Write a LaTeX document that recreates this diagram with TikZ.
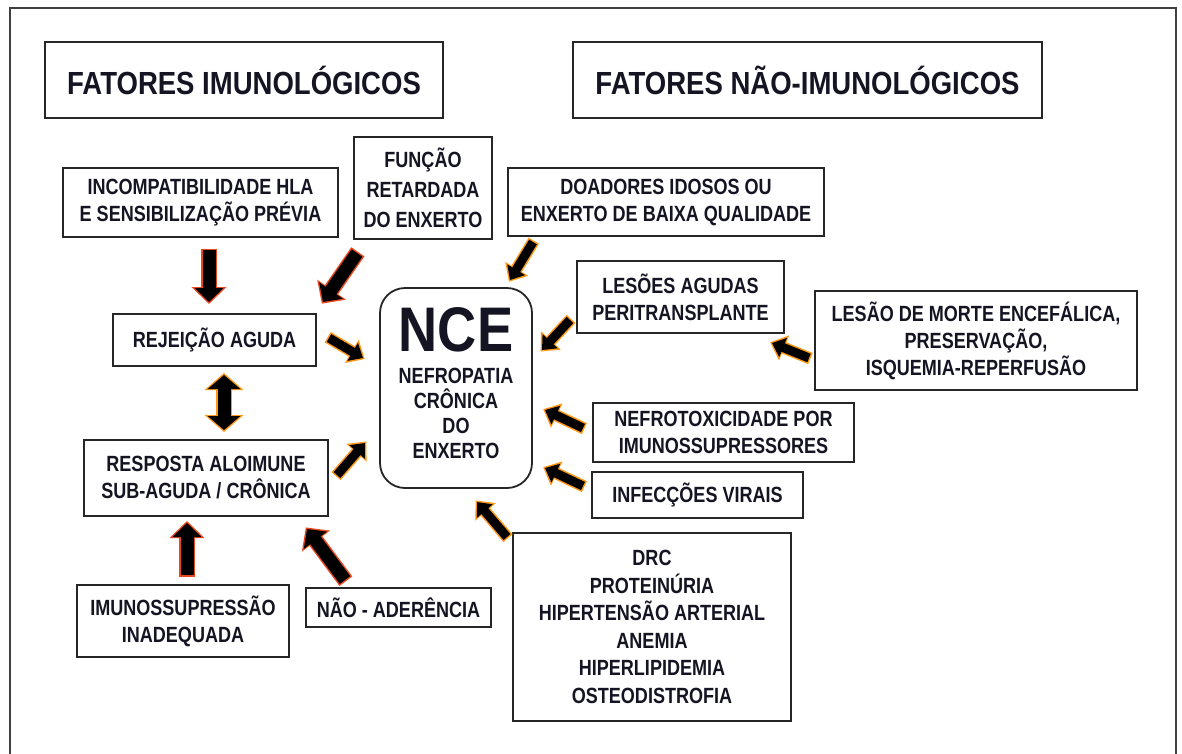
\documentclass[tikz,border=0pt]{standalone}
\usepackage{fontspec}
\setmainfont{Liberation Sans}
\newfontfamily\nb[FakeStretch=0.82]{Liberation Sans}
\newfontfamily\tb[FakeStretch=0.86]{Liberation Sans}
\usetikzlibrary{arrows.meta}
\definecolor{txt}{RGB}{20,20,35}
\definecolor{orng}{RGB}{255,150,20}
\definecolor{redo}{RGB}{235,70,30}
\begin{document}
\begin{tikzpicture}[x=1pt,y=-1pt,
  box/.style={draw=black!85, line width=1.8pt, fill=white, inner sep=0pt, align=center, text=txt,
    font=\nb\bfseries\fontsize{22}{27}\selectfont},
  titlebox/.style={box, font=\tb\bfseries\fontsize{32}{36}\selectfont},
  ncebox/.style={box, rounded corners=25pt, font=\nb\bfseries\fontsize{22}{25}\selectfont},
  bigA/.style={black, line width=13pt, -{Triangle[width=28pt,length=14pt]},
    preaction={draw=redo, line width=16pt, -{Triangle[width=34pt,length=17pt]}, shorten >=-2pt, shorten <=-1.5pt}},
  smallA/.style={black, line width=9pt, -{Triangle[width=20pt,length=12pt]},
    preaction={draw=orng, line width=12pt, -{Triangle[width=26pt,length=15pt]}, shorten >=-2pt, shorten <=-1.5pt}},
  dblA/.style={black, line width=13pt, {Triangle[width=32pt,length=14pt]}-{Triangle[width=32pt,length=14pt]},
    preaction={draw=orng, line width=16pt, {Triangle[width=38pt,length=17pt]}-{Triangle[width=38pt,length=17pt]}, shorten >=-2pt, shorten <=-2pt}}
]
\useasboundingbox (0,0) rectangle (1182,753);
\fill[white] (0,0) rectangle (1182,753);
\draw[line width=2pt, black!75] (10,765) -- (10,8) -- (1176,8) -- (1176,765);

% titles
\node[titlebox, minimum width=398pt, minimum height=76pt] (tit1) at (244,80) {FATORES IMUNOLÓGICOS};
\node[titlebox, minimum width=469pt, minimum height=76pt] (tit2) at (807.5,80) {FATORES NÃO-IMUNOLÓGICOS};

% left side
\node[box, minimum width=275pt, minimum height=69pt] (inc) at (200.5,202.5) {INCOMPATIBILIDADE HLA\\E SENSIBILIZAÇÃO PRÉVIA};
\node[box, minimum width=138pt, minimum height=102pt, font=\nb\bfseries\fontsize{22}{30}\selectfont] (fun) at (423,188) {FUNÇÃO\\RETARDADA\\DO ENXERTO};
\node[box, minimum width=203pt, minimum height=52pt] (rej) at (214.5,340) {REJEIÇÃO AGUDA};
\node[box, minimum width=244pt, minimum height=76pt] (res) at (206,478) {RESPOSTA ALOIMUNE\\SUB-AGUDA / CRÔNICA};
\node[box, minimum width=212pt, minimum height=72pt] (imu) at (183,621) {IMUNOSSUPRESSÃO\\INADEQUADA};
\node[box, minimum width=185pt, minimum height=39pt] (nao) at (398.5,607.5) {NÃO - ADERÊNCIA};

% centre
\node[ncebox, minimum width=152pt, minimum height=200pt] (nce) at (456,388)
  {{\tb\fontsize{63}{63}\selectfont NCE}\\[7pt]NEFROPATIA\\CRÔNICA\\DO\\ENXERTO\rule[-10pt]{0pt}{10pt}};

% right side
\node[box, minimum width=316pt, minimum height=68pt] (doa) at (666,202) {DOADORES IDOSOS OU\\ENXERTO DE BAIXA QUALIDADE};
\node[box, minimum width=207pt, minimum height=72pt] (les) at (680.5,297) {LESÕES AGUDAS\\PERITRANSPLANTE};
\node[box, minimum width=322pt, minimum height=99pt] (mor) at (976,340.5) {LESÃO DE MORTE ENCEFÁLICA,\\PRESERVAÇÃO,\\ISQUEMIA-REPERFUSÃO};
\node[box, minimum width=261pt, minimum height=59pt] (nef) at (723.5,432.5) {NEFROTOXICIDADE POR\\IMUNOSSUPRESSORES};
\node[box, minimum width=211pt, minimum height=46pt] (inf) at (697.5,495) {INFECÇÕES VIRAIS};
\node[box, minimum width=278pt, minimum height=188pt, font=\nb\bfseries\fontsize{22}{27.6}\selectfont] (drc) at (652,627)
  {DRC\\PROTEINÚRIA\\HIPERTENSÃO ARTERIAL\\ANEMIA\hspace*{10pt}\\HIPERLIPIDEMIA\\OSTEODISTROFIA};

% arrows
\draw[bigA] ([shift={(8.5,47.5)}]inc.center) -- ([shift={(-5.5,-38)}]rej.center);
\draw[bigA] ([shift={(-66,65)}]fun.center) -- ([shift={(108.5,-38)}]rej.center);
\draw[smallA] ([shift={(114.5,-2)}]rej.center) -- ([shift={(-93,-30)}]nce.center);
\draw[dblA] ([shift={(9.5,35)}]rej.center) -- ([shift={(18,-48)}]res.center);
\draw[smallA] ([shift={(131,-3)}]res.center) -- ([shift={(-91,55)}]nce.center);
\draw[bigA] ([shift={(4,-46)}]imu.center) -- ([shift={(-19,45)}]res.center);
\draw[bigA] ([shift={(-53.5,-27.5)}]nao.center) -- ([shift={(101,51)}]res.center);
\draw[smallA] ([shift={(-133,40)}]doa.center) -- ([shift={(54,-108)}]nce.center);
\draw[smallA] ([shift={(-110.5,23)}]les.center) -- ([shift={(86,-38)}]nce.center);
\draw[smallA] ([shift={(-167,17.5)}]mor.center) -- ([shift={(91.5,46)}]les.center);
\draw[smallA] ([shift={(-140.5,-4.5)}]nef.center) -- ([shift={(89,22)}]nce.center);
\draw[smallA] ([shift={(-114.5,-9)}]inf.center) -- ([shift={(89,80)}]nce.center);
\draw[smallA] ([shift={(-145,-90)}]drc.center) -- ([shift={(21,114)}]nce.center);
\end{tikzpicture}
\end{document}
